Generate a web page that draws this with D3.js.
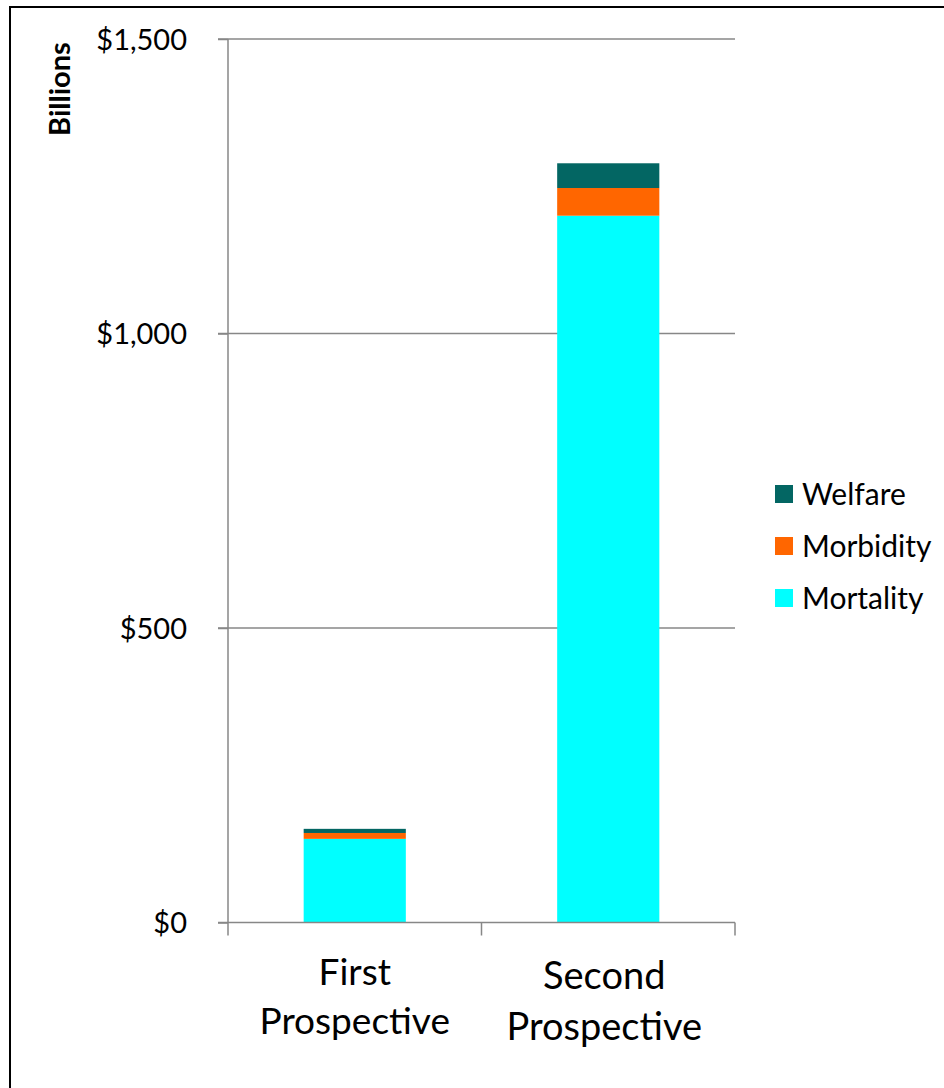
<!DOCTYPE html>
<html>
<head>
<meta charset="utf-8">
<script src="https://cdn.jsdelivr.net/npm/d3@7"></script>
<style>
  html, body { margin: 0; padding: 0; background: #fff; }
  svg { display: block; }
  text { font-family: Lato, "Open Sans", sans-serif; fill: #000; }
</style>
</head>
<body>
<svg id="chart" width="944" height="1088"></svg>
<script>
// Benefit estimates by study, in billions of dollars
const studies = ["First Prospective", "Second Prospective"];
const studyLines = [["First", "Prospective"], ["Second", "Prospective"]];
const mortality = [142, 1200];
const morbidity = [10, 47];
const welfare = [7, 42];
const seriesNames = ["Mortality", "Morbidity", "Welfare"];
const seriesColors = ["#00FFFF", "#FF6600", "#036663"];
const yTicks = [0, 500, 1000, 1500];

const svg = d3.select("#chart");
svg.append("rect").attr("width", 944).attr("height", 1088).attr("fill", "#fff");

// frame edges
svg.append("line").attr("x1", 10).attr("x2", 944).attr("y1", 7).attr("y2", 7)
  .attr("stroke", "#000").attr("stroke-width", 2);
svg.append("line").attr("x1", 10).attr("x2", 10).attr("y1", 6).attr("y2", 1088)
  .attr("stroke", "#000").attr("stroke-width", 2);

const plot = { left: 228, right: 735, top: 39, bottom: 922.5 };

const x = d3.scaleBand().domain(studies).range([plot.left, plot.right]).padding(0);
const y = d3.scaleLinear().domain([0, 1500]).range([plot.bottom, plot.top]);

const gridColor = "#878787";

// horizontal gridlines with outward tick stubs
svg.append("g").selectAll("line").data(yTicks.filter(d => d > 0)).join("line")
  .attr("x1", plot.left - 10).attr("x2", plot.right)
  .attr("y1", d => y(d)).attr("y2", d => y(d))
  .attr("stroke", gridColor).attr("stroke-width", 1.5);

// stacked bars
const rows = studies.map((s, i) => ({ study: s, Mortality: mortality[i], Morbidity: morbidity[i], Welfare: welfare[i] }));
const stack = d3.stack().keys(seriesNames)(rows);
const barW = x.bandwidth() * 0.403;

svg.append("g").selectAll("g").data(stack).join("g")
  .attr("fill", (d, i) => seriesColors[i])
  .selectAll("rect").data(d => d).join("rect")
  .attr("x", d => x(d.data.study) + (x.bandwidth() - barW) / 2)
  .attr("width", barW)
  .attr("y", d => y(d[1]))
  .attr("height", d => y(d[0]) - y(d[1]));

// axes
const yAxis = d3.axisLeft(y).tickValues(yTicks).tickSize(10).tickFormat(d => "$" + d3.format(",")(d));
const yg = svg.append("g").attr("transform", `translate(${plot.left},0)`).call(yAxis);
yg.select(".domain").attr("d", `M0,${plot.top}V${plot.bottom}`).attr("stroke", gridColor).attr("stroke-width", 1.5);
yg.selectAll(".tick line").attr("stroke", gridColor).attr("stroke-width", 1.5);
yg.selectAll(".tick text").attr("x", -41).attr("dy", "0.35em")
  .style("font-size", "29px").style("font-family", "Lato, sans-serif").attr("fill", "#000");

const xg = svg.append("g").attr("transform", `translate(0,${plot.bottom})`);
xg.append("line").attr("x1", plot.left - 10).attr("x2", plot.right).attr("y1", 0).attr("y2", 0)
  .attr("stroke", gridColor).attr("stroke-width", 1.5);
const xTickPos = [plot.left, ...studies.map(s => x(s) + x.bandwidth())];
xg.selectAll("line.tk").data(xTickPos).join("line").attr("class", "tk")
  .attr("x1", d => d).attr("x2", d => d).attr("y1", 0).attr("y2", 13)
  .attr("stroke", gridColor).attr("stroke-width", 1.5);

// category labels, two lines each
const catSizes = [37, 38];
const catBase = [[985, 1034], [989, 1040]];
const catShift = [0, -4];
studies.forEach((s, i) => {
  const t = svg.append("text").attr("text-anchor", "middle").style("font-size", catSizes[i] + "px");
  studyLines[i].forEach((ln, j) => {
    t.append("tspan").attr("x", x(s) + x.bandwidth() / 2 + catShift[i]).attr("y", catBase[i][j]).text(ln);
  });
});

// y axis title
svg.append("text").attr("transform", "translate(70,89) rotate(-90)")
  .attr("text-anchor", "middle").style("font-size", "29px").style("font-weight", "bold")
  .text("Billions");

// legend, top-down: Welfare, Morbidity, Mortality
const legendOrder = [2, 1, 0];
const lg = svg.append("g").selectAll("g").data(legendOrder).join("g")
  .attr("transform", (d, i) => `translate(775,${494 + i * 52})`);
lg.append("rect").attr("x", 0).attr("y", -9).attr("width", 18).attr("height", 18)
  .attr("fill", d => seriesColors[d]);
lg.append("text").attr("x", 27).attr("dy", "0.35em").style("font-size", "30px")
  .text(d => seriesNames[d]);
</script>
</body>
</html>
